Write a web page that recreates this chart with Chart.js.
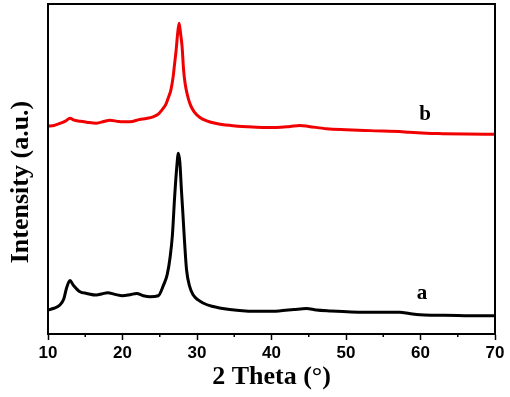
<!DOCTYPE html>
<html>
<head>
<meta charset="utf-8">
<script src="https://cdn.jsdelivr.net/npm/chart.js@4/dist/chart.umd.min.js"></script>
<style>
  html, body { margin: 0; padding: 0; background: #fff; }
  #wrap { width: 510px; height: 397px; }
</style>
</head>
<body>
<div id="wrap"><canvas id="xrd" width="510" height="397"></canvas></div>
<script>
// 2 theta values (deg) and intensities (a.u.)
const thetaB = [10, 10.8, 11.6, 12.4, 12.95, 13.5, 14.3, 15.2, 16.5, 17.5, 18.3, 19.5, 21, 22.3, 23.2, 24.1, 24.8, 25.3, 25.8, 26.2, 26.5, 26.8, 27.0, 27.2, 27.4, 27.6, 27.8, 28.0, 28.2, 28.4, 28.7, 29.1, 29.6, 30.4, 31.3, 32.6, 34.5, 36.7, 38.8, 40.7, 42.5, 43.8, 45, 47.4, 50, 52.5, 55, 57.2, 58.5, 60.8, 63, 66, 70];
const seriesB = [63.0, 63.2, 63.8, 64.6, 65.4, 64.8, 64.5, 64.2, 63.9, 64.4, 64.8, 64.4, 64.3, 65.0, 65.3, 65.8, 66.6, 67.9, 69.5, 71.9, 74, 78, 82, 86, 91, 94.2, 91, 87, 80, 76, 72.5, 69.5, 67.4, 65.6, 64.6, 63.8, 63.2, 62.8, 62.6, 62.6, 62.9, 63.2, 62.9, 62.2, 61.9, 61.7, 61.5, 61.4, 61.1, 60.8, 60.7, 60.6, 60.5];

const thetaA = [10, 10.8, 11.6, 12.1, 12.5, 12.95, 13.4, 14.3, 15.2, 16.5, 17.3, 18, 19, 20, 21, 21.9, 22.8, 23.7, 24.8, 25.5, 26.0, 26.4, 26.7, 27.0, 27.3, 27.5, 27.7, 27.9, 28.1, 28.3, 28.6, 29.0, 29.5, 30.1, 30.8, 32, 34.4, 36.5, 38.9, 41, 43, 44.7, 46, 48, 49.6, 52, 54, 56, 57.2, 58.5, 59.9, 62, 65, 67.5, 70];
const seriesA = [7.3, 7.8, 8.8, 10.5, 14, 16.2, 14.8, 12.8, 12.3, 11.8, 12.2, 12.5, 12.0, 11.6, 11.9, 12.3, 11.6, 11.3, 11.6, 14.8, 18, 23.4, 30, 41.6, 51, 54.8, 52, 44, 36.7, 29, 19.4, 14.5, 11.8, 10.4, 9.4, 8.4, 7.4, 7.0, 6.9, 7.0, 7.4, 7.7, 7.3, 7.0, 6.8, 6.6, 6.6, 6.6, 6.6, 6.2, 5.8, 5.7, 5.6, 5.5, 5.5];

const majorTicks = [10, 20, 30, 40, 50, 60, 70];
const minorTicks = [15, 25, 35, 45, 55, 65];
const curveLabels = [
  { text: 'b', x: 60.6, y: 66.4 },
  { text: 'a', x: 60.2, y: 12.4 }
];

function toPoints(xs, ys) {
  return xs.map((x, i) => ({ x: x, y: ys[i] }));
}

// frame, minor ticks and the a/b labels
const extras = {
  id: 'extras',
  afterDraw(chart) {
    const ctx = chart.ctx;
    const area = chart.chartArea;
    const xs = chart.scales.x;
    const ys = chart.scales.y;
    ctx.save();
    ctx.strokeStyle = '#000';
    ctx.lineWidth = 2;
    ctx.strokeRect(area.left, area.top, area.right - area.left, area.bottom - area.top);
    ctx.lineWidth = 1.5;
    minorTicks.forEach(function (v) {
      const px = xs.getPixelForValue(v);
      ctx.beginPath();
      ctx.moveTo(px, area.bottom);
      ctx.lineTo(px, area.bottom + 3);
      ctx.stroke();
    });
    ctx.fillStyle = '#000';
    ctx.font = 'bold 21px "Liberation Serif"';
    ctx.textAlign = 'center';
    ctx.textBaseline = 'middle';
    curveLabels.forEach(function (l) {
      ctx.fillText(l.text, xs.getPixelForValue(l.x), ys.getPixelForValue(l.y));
    });
    ctx.restore();
  }
};

new Chart(document.getElementById('xrd'), {
  type: 'line',
  data: {
    datasets: [
      {
        label: 'b',
        data: toPoints(thetaB, seriesB),
        borderColor: '#f00000',
        borderWidth: 3,
        pointRadius: 0,
        cubicInterpolationMode: 'monotone',
        fill: false
      },
      {
        label: 'a',
        data: toPoints(thetaA, seriesA),
        borderColor: '#000',
        borderWidth: 3,
        pointRadius: 0,
        cubicInterpolationMode: 'monotone',
        fill: false
      }
    ]
  },
  options: {
    responsive: false,
    animation: false,
    layout: { padding: { top: 4, right: 15, left: 0, bottom: 0 } },
    plugins: { legend: { display: false }, tooltip: { enabled: false } },
    scales: {
      x: {
        type: 'linear',
        min: 10,
        max: 70,
        afterBuildTicks: function (scale) {
          scale.ticks = majorTicks.map(v => ({ value: v }));
        },
        afterFit: function (scale) { scale.height = 63; },
        grid: { drawOnChartArea: false, tickLength: 6, tickWidth: 1.5, tickColor: '#000' },
        border: { display: true, color: '#000', width: 2 },
        ticks: {
          color: '#000',
          padding: 3,
          maxRotation: 0,
          font: { family: 'Liberation Sans', size: 17, weight: 'bold' }
        },
        title: {
          display: true,
          text: '2 Theta (°)',
          color: '#000',
          padding: { top: 0, bottom: 4 },
          font: { family: 'Liberation Serif', size: 26, weight: 'bold' }
        }
      },
      y: {
        min: 0,
        max: 100,
        afterFit: function (scale) { scale.width = 48; },
        grid: { display: false },
        border: { display: true, color: '#000', width: 2 },
        ticks: { display: false },
        title: {
          display: true,
          text: 'Intensity (a.u.)    ',
          color: '#000',
          padding: { top: 6, bottom: 0 },
          font: { family: 'Liberation Serif', size: 26, weight: 'bold' }
        }
      }
    }
  },
  plugins: [extras]
});
</script>
</body>
</html>
